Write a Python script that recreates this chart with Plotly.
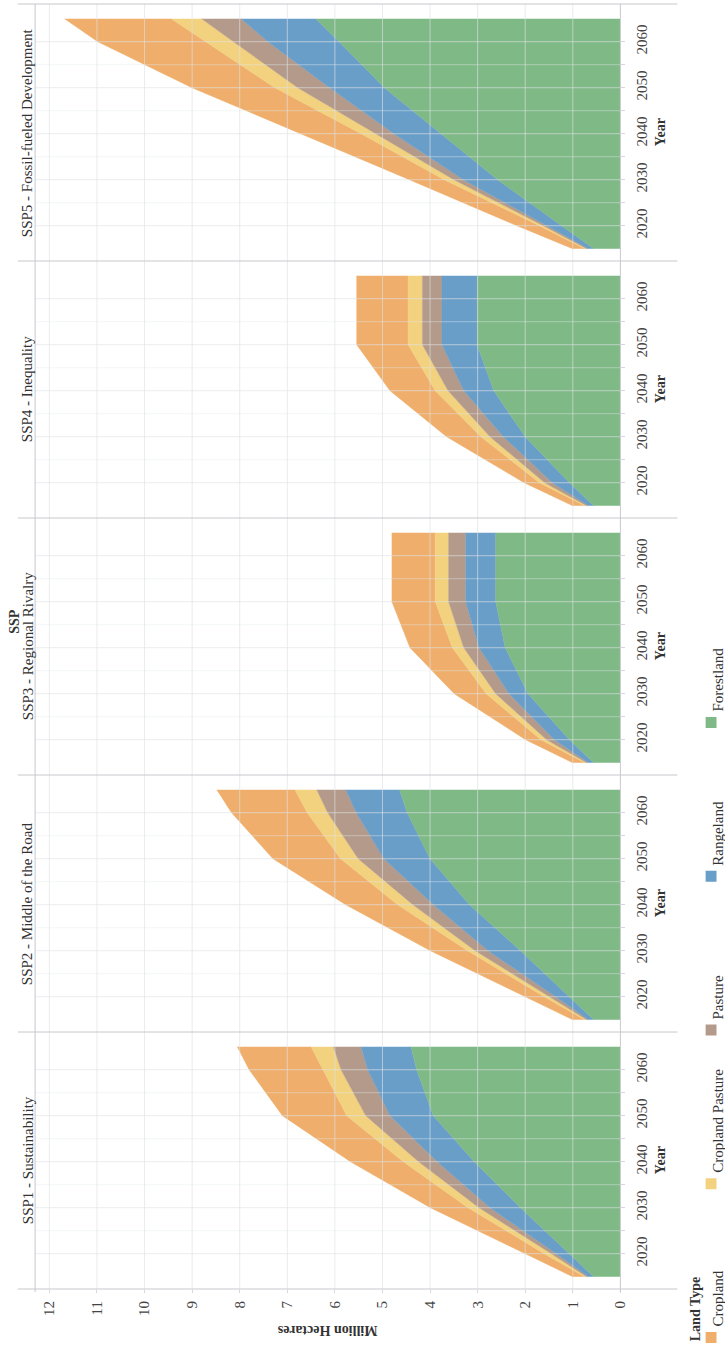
import plotly.graph_objects as go

# ---------------------------------------------------------------- data
years = [2015, 2020, 2030, 2040, 2050, 2060, 2065]

scenarios = ["SSP1", "SSP2", "SSP3", "SSP4", "SSP5"]
scenario_titles = [
    "SSP1 - Sustainability",
    "SSP2 - Middle of the Road",
    "SSP3 - Regional Rivalry",
    "SSP4 - Inequality",
    "SSP5 - Fossil-fueled Development",
]

# million hectares per land type, one list per scenario (values follow `years`)
forestland = {
    "SSP1": [0.56, 1.07, 2.10, 3.07, 3.93, 4.28, 4.40],
    "SSP2": [0.56, 1.08, 2.10, 3.17, 4.00, 4.48, 4.64],
    "SSP3": [0.56, 1.07, 1.94, 2.42, 2.62, 2.62, 2.62],
    "SSP4": [0.56, 1.07, 2.00, 2.66, 3.01, 3.01, 3.01],
    "SSP5": [0.56, 1.23, 2.58, 3.77, 4.96, 5.91, 6.40],
}
rangeland = {
    "SSP1": [0.11, 0.28, 0.64, 0.78, 0.91, 1.03, 1.05],
    "SSP2": [0.11, 0.28, 0.68, 0.76, 0.97, 1.07, 1.13],
    "SSP3": [0.11, 0.32, 0.40, 0.55, 0.63, 0.63, 0.63],
    "SSP4": [0.11, 0.36, 0.46, 0.63, 0.74, 0.74, 0.74],
    "SSP5": [0.11, 0.32, 0.72, 0.99, 1.15, 1.50, 1.57],
}
pasture = {
    "SSP1": [0.04, 0.10, 0.23, 0.39, 0.51, 0.56, 0.58],
    "SSP2": [0.04, 0.14, 0.27, 0.43, 0.54, 0.60, 0.61],
    "SSP3": [0.04, 0.16, 0.28, 0.32, 0.36, 0.36, 0.36],
    "SSP4": [0.04, 0.16, 0.28, 0.33, 0.41, 0.41, 0.41],
    "SSP5": [0.04, 0.07, 0.20, 0.39, 0.67, 0.72, 0.83],
}
cropland_pasture = {
    "SSP1": [0.04, 0.15, 0.23, 0.32, 0.40, 0.39, 0.47],
    "SSP2": [0.04, 0.10, 0.16, 0.32, 0.37, 0.43, 0.46],
    "SSP3": [0.04, 0.12, 0.20, 0.24, 0.28, 0.28, 0.28],
    "SSP4": [0.04, 0.11, 0.19, 0.27, 0.30, 0.30, 0.30],
    "SSP5": [0.04, 0.08, 0.20, 0.30, 0.48, 0.59, 0.64],
}
cropland = {
    "SSP1": [0.25, 0.39, 0.79, 1.11, 1.35, 1.54, 1.55],
    "SSP2": [0.25, 0.39, 0.78, 1.09, 1.42, 1.59, 1.64],
    "SSP3": [0.25, 0.32, 0.67, 0.89, 0.91, 0.91, 0.91],
    "SSP4": [0.25, 0.32, 0.72, 0.95, 1.08, 1.08, 1.08],
    "SSP5": [0.25, 0.47, 0.73, 1.26, 1.74, 2.26, 2.24],
}

legend_order = ["Cropland", "Cropland Pasture", "Pasture", "Rangeland", "Forestland"]
value_ticks = list(range(0, 13))
year_ticks = list(range(2020, 2061, 5))
year_labels = [str(y) if y % 10 == 0 else "" for y in year_ticks]

# ---------------------------------------------------------------- style
colors = {
    "Cropland": "#efae6b",
    "Cropland Pasture": "#f2d27f",
    "Pasture": "#b39a8a",
    "Rangeland": "#699ec9",
    "Forestland": "#7eb986",
}
series = {
    "Forestland": forestland,
    "Rangeland": rangeland,
    "Pasture": pasture,
    "Cropland Pasture": cropland_pasture,
    "Cropland": cropland,
}
stack_order = ["Forestland", "Rangeland", "Pasture", "Cropland Pasture", "Cropland"]

FONT = "Liberation Serif"
TEXT = "#333333"
TICK_TEXT = "#444444"
BORDER = "#c8c8ce"
GRID = "rgba(222,224,228,0.65)"
GRID_MINOR = "rgba(228,230,234,0.45)"
REG_SIZE = 15
BOLD_SIZE = 14

W, H = 725, 1353
PLOT_L, PLOT_R = 35.5, 627.3          # value axis extent (px)
PANEL_TOP, PANEL_H = 4, 257           # first facet cell top and cell height (px)
VAL_MAX = 12.3
YEAR_RANGE = [2012.33, 2068.2]
SEP_L, SEP_R = 18, 685


def px(x):
    return x / W


def py(y):
    return 1 - y / H


fig = go.Figure()
layout = dict(
    width=W,
    height=H,
    margin=dict(l=0, r=0, t=0, b=0),
    paper_bgcolor="white",
    plot_bgcolor="rgba(0,0,0,0)",
    showlegend=False,
    font=dict(family=FONT, color=TEXT),
)
shapes = []
annotations = []

# facets are stacked with the last scenario on top
top_to_bottom = list(reversed(range(len(scenarios))))

for row, s_idx in enumerate(top_to_bottom):
    code = scenarios[s_idx]
    ax = row + 1
    suffix = "" if ax == 1 else str(ax)
    xa, ya = "x" + suffix, "y" + suffix
    top = PANEL_TOP + PANEL_H * row
    bottom = top + PANEL_H
    is_bottom = row == len(scenarios) - 1

    for land in stack_order:
        c = colors[land]
        fig.add_trace(
            go.Scatter(
                x=series[land][code],
                y=years,
                name=land,
                stackgroup=f"stack{ax}",
                orientation="h",
                mode="lines",
                line=dict(width=0.6, color=c),
                fillcolor=c,
                xaxis=xa,
                yaxis=ya,
                hoverinfo="skip",
            )
        )

    layout["xaxis" + suffix] = dict(
        domain=[px(PLOT_L), px(PLOT_R)],
        range=[VAL_MAX, 0],
        anchor=ya,
        showgrid=False,
        zeroline=False,
        showline=False,
        tickvals=value_ticks,
        showticklabels=is_bottom,
        ticks="outside" if is_bottom else "",
        ticklen=3,
        tickcolor="#d8d8dc",
        tickangle=-90,
        tickfont=dict(family=FONT, size=REG_SIZE, color=TICK_TEXT),
        ticklabelstandoff=2,
    )
    layout["yaxis" + suffix] = dict(
        domain=[py(bottom), py(top)],
        range=YEAR_RANGE,
        anchor=xa,
        side="right",
        showgrid=False,
        zeroline=False,
        showline=False,
        tickvals=year_ticks,
        ticktext=year_labels,
        ticks="outside",
        ticklen=4,
        tickcolor="#d8d8dc",
        tickangle=-90,
        tickfont=dict(family=FONT, size=REG_SIZE, color=TICK_TEXT),
        ticklabelstandoff=4,
    )

    # grid drawn over the areas
    for v in value_ticks[1:]:
        shapes.append(dict(type="line", xref=xa, yref=f"{ya} domain",
                           x0=v, x1=v, y0=0, y1=1, layer="above",
                           line=dict(color=GRID, width=1)))
    for y in year_ticks:
        shapes.append(dict(type="line", xref=f"{xa} domain", yref=ya,
                           x0=0, x1=1, y0=y, y1=y, layer="above",
                           line=dict(color=GRID if y % 10 == 0 else GRID_MINOR, width=1)))

    # facet cell border line
    shapes.append(dict(type="line", xref="paper", yref="paper",
                       x0=px(SEP_L), x1=px(SEP_R), y0=py(top), y1=py(top),
                       line=dict(color=BORDER, width=1)))

    mid = (top + bottom) / 2
    annotations.append(dict(
        text=scenario_titles[s_idx], xref="paper", yref="paper",
        x=px(28), y=py(mid), textangle=-90, showarrow=False,
        xanchor="center", yanchor="middle",
        font=dict(family=FONT, size=REG_SIZE, color=TEXT)))
    annotations.append(dict(
        text="<b>Year</b>", xref="paper", yref="paper",
        x=px(668), y=py(mid), textangle=-90, showarrow=False,
        xanchor="center", yanchor="middle",
        font=dict(family=FONT, size=BOLD_SIZE, color=TEXT)))

# outer frame lines
last_bottom = PANEL_TOP + PANEL_H * len(scenarios)
shapes.append(dict(type="line", xref="paper", yref="paper",
                   x0=px(SEP_L), x1=px(SEP_R), y0=py(last_bottom), y1=py(last_bottom),
                   line=dict(color=BORDER, width=1)))
for xv in (PLOT_L, PLOT_R):
    shapes.append(dict(type="line", xref="paper", yref="paper",
                       x0=px(xv), x1=px(xv), y0=py(PANEL_TOP), y1=py(last_bottom + 3),
                       line=dict(color=BORDER, width=1)))

annotations.append(dict(
    text="<b>SSP</b>", xref="paper", yref="paper", x=px(14), y=py(621),
    textangle=-90, showarrow=False, xanchor="center", yanchor="middle",
    font=dict(family=FONT, size=BOLD_SIZE, color=TEXT)))
annotations.append(dict(
    text="<b>Million Hectares</b>", xref="paper", yref="paper",
    x=px((PLOT_L + PLOT_R) / 2), y=py(1331), textangle=180, showarrow=False,
    xanchor="center", yanchor="middle",
    font=dict(family=FONT, size=BOLD_SIZE, color=TEXT)))

# legend (drawn by hand so it can run along the edge)
annotations.append(dict(
    text="<b>Land Type</b>", xref="paper", yref="paper", x=px(703), y=py(1343),
    textangle=-90, showarrow=False, xanchor="center", yanchor="bottom",
    font=dict(family=FONT, size=BOLD_SIZE, color=TEXT)))
LEG_START, LEG_STEP = 1337.5, 153.75
for j, land in enumerate(legend_order):
    cy = LEG_START - LEG_STEP * j
    shapes.append(dict(type="rect", xref="paper", yref="paper",
                       x0=px(713.5), x1=px(724.5), y0=py(cy + 5.5), y1=py(cy - 5.5),
                       fillcolor=colors[land], line=dict(width=0)))
    annotations.append(dict(
        text=land, xref="paper", yref="paper", x=px(726), y=py(cy - 9),
        textangle=-90, showarrow=False, xanchor="center", yanchor="bottom",
        font=dict(family=FONT, size=REG_SIZE, color=TEXT)))

layout["shapes"] = shapes
layout["annotations"] = annotations
fig.update_layout(**layout)

fig.write_html("out.html")
